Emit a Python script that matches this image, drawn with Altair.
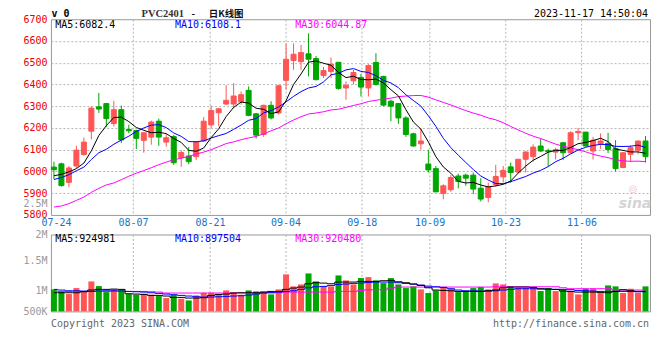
import altair as alt
import pandas as pd

MONO = "DejaVu Sans Mono"
RED = "#ff5555"
GREEN = "#00a600"
GRID = "#b4b4b4"

opens = [6020, 6035, 5950, 6025, 6078, 6185, 6297, 6312, 6220, 6284,
         6193, 6188, 6143, 6158, 6231, 6135, 6160, 6063, 6071, 6068,
         6140, 6214, 6270, 6310, 6310, 6320, 6373, 6265, 6170, 6304,
         6269, 6419, 6510, 6505, 6541, 6519, 6441, 6460, 6502, 6384,
         6417, 6432, 6384, 6501, 6437, 6323, 6312, 6246, 6173, 6127,
         6034, 6013, 5899, 5916, 5979, 5983, 5983, 5923, 5880, 5940,
         5975, 6021, 5997, 6056, 6068, 6117, 6096, 6089, 6132, 6086,
         6178, 6181, 6094, 6127, 6129, 6105, 6018, 6079, 6098, 6140]
highs = [6045, 6040, 6025, 6118, 6155, 6300, 6361, 6315, 6325, 6303,
         6215, 6192, 6180, 6234, 6243, 6172, 6168, 6097, 6112, 6140,
         6250, 6303, 6292, 6396, 6406, 6368, 6391, 6269, 6307, 6323,
         6399, 6589, 6589, 6582, 6635, 6531, 6480, 6524, 6502, 6414,
         6467, 6449, 6493, 6544, 6440, 6330, 6315, 6254, 6178, 6200,
         6100, 6025, 5941, 5983, 5990, 5990, 5995, 5969, 5949, 6030,
         6025, 6041, 6058, 6094, 6124, 6150, 6105, 6109, 6135, 6185,
         6200, 6181, 6159, 6175, 6178, 6144, 6089, 6120, 6140, 6163]
lows = [5965, 5930, 5928, 6015, 6072, 6147, 6269, 6205, 6207, 6130,
        6175, 6103, 6086, 6123, 6118, 6114, 6030, 6021, 6033, 6052,
        6135, 6200, 6208, 6305, 6290, 6307, 6254, 6151, 6159, 6239,
        6262, 6376, 6467, 6467, 6437, 6419, 6429, 6429, 6376, 6330,
        6400, 6345, 6345, 6395, 6300, 6231, 6219, 6159, 6114, 6100,
        5995, 5906, 5872, 5906, 5922, 5934, 5896, 5862, 5858, 5930,
        5949, 5949, 5995, 5995, 6045, 6089, 6022, 6055, 6053, 6083,
        6144, 6114, 6055, 6104, 6084, 6000, 6015, 6044, 6079, 6041]
closes = [6008, 5935, 6016, 6098, 6135, 6291, 6287, 6243, 6284, 6145,
          6187, 6152, 6178, 6227, 6158, 6155, 6040, 6087, 6045, 6136,
          6231, 6280, 6288, 6327, 6347, 6353, 6258, 6167, 6304, 6246,
          6394, 6516, 6539, 6547, 6516, 6422, 6464, 6493, 6382, 6396,
          6455, 6388, 6487, 6400, 6305, 6300, 6246, 6170, 6117, 6140,
          6007, 5906, 5934, 5972, 5954, 5969, 5919, 5873, 5930, 5977,
          6005, 5995, 6056, 6089, 6112, 6094, 6091, 6100, 6086, 6178,
          6184, 6117, 6144, 6140, 6101, 6013, 6086, 6109, 6140, 6068]

ma5 = [5980, 5987, 5998, 6013, 6038.4, 6095, 6165.4, 6210.8, 6248, 6250,
       6229.2, 6202.2, 6189.2, 6177.8, 6180.4, 6174, 6151.6, 6133.4, 6097, 6092.6,
       6107.8, 6155.8, 6196, 6252.4, 6294.6, 6319, 6314.6, 6290.4, 6285.8, 6265.6,
       6273.8, 6325.4, 6399.8, 6448.4, 6502.4, 6508, 6497.6, 6488.4, 6455.4, 6431.4,
       6438, 6422.8, 6421.6, 6425.2, 6407, 6376, 6347.6, 6284.2, 6227.6, 6194.6,
       6136, 6068, 6020.8, 5991.8, 5954.6, 5947, 5949.6, 5937.4, 5929, 5933.6,
       5940.8, 5956, 5992.6, 6024.4, 6051.4, 6069.2, 6088.4, 6097.2, 6096.6, 6109.8,
       6127.8, 6133, 6141.8, 6152.6, 6137.2, 6103, 6096.8, 6089.8, 6089.8, 6083.2]
ma10 = [5963, 5972, 5985, 6003, 6020, 6055, 6086, 6102, 6125, 6144.2,
        6162.1, 6183.8, 6200, 6212.9, 6215.2, 6201.6, 6176.9, 6161.3, 6137.4, 6136.5,
        6140.9, 6153.7, 6164.7, 6174.7, 6193.6, 6213.4, 6235.2, 6243.2, 6269.1, 6280.1,
        6296.4, 6320, 6345.1, 6367.1, 6384, 6390.9, 6411.5, 6444.1, 6451.9, 6466.9,
        6473, 6460.2, 6455, 6440.3, 6419.2, 6407, 6385.2, 6352.9, 6326.4, 6300.8,
        6256, 6207.8, 6152.5, 6109.7, 6074.6, 6041.5, 6008.8, 5979.1, 5960.4, 5944.1,
        5943.9, 5952.8, 5965, 5976.7, 5992.5, 6005, 6022.2, 6044.9, 6060.5, 6080.6,
        6098.5, 6110.7, 6119.5, 6124.6, 6123.5, 6115.4, 6114.9, 6115.8, 6121.2, 6110.2]
ma30 = [5836, 5841, 5852, 5867, 5882, 5904, 5922, 5938, 5947, 5962,
        5978, 5992, 6004, 6017, 6031, 6043, 6054, 6061, 6069, 6080,
        6089, 6100, 6114, 6128, 6136, 6146, 6154, 6161, 6173, 6186.9,
        6199.8, 6219.2, 6236.6, 6251.6, 6264.3, 6268.6, 6274.5, 6282.9, 6286.1, 6294.5,
        6303.4, 6311.3, 6321.6, 6327.4, 6332.3, 6337.1, 6344, 6346.7, 6349.1, 6349.3,
        6341.8, 6329.3, 6317.5, 6305.7, 6292.6, 6279.8, 6268.5, 6258.7, 6246.2, 6237.3,
        6224.3, 6206.9, 6190.8, 6175.6, 6162.1, 6151.2, 6138.7, 6125.6, 6115.8, 6108.5,
        6099.5, 6090.4, 6079, 6070.3, 6063.5, 6053.9, 6048.6, 6046.6, 6047.4, 6045]

volumes = [1017000, 983000, 939000, 1039000, 983000, 1150000, 1072000, 972000, 1017000, 1017000,
           939000, 928000, 944000, 928000, 906000, 872000, 928000, 861000, 833000, 917000,
           961000, 961000, 939000, 1000000, 972000, 928000, 1000000, 983000, 983000, 933000,
           1017000, 1267000, 1067000, 1100000, 1283000, 1150000, 1067000, 1067000, 1250000, 1167000,
           1100000, 1206000, 1222000, 1167000, 1122000, 1206000, 1100000, 1039000, 1067000, 1017000,
           956000, 1000000, 1056000, 1028000, 972000, 983000, 1039000, 1056000, 1017000, 1117000,
           1100000, 1067000, 1039000, 1039000, 1056000, 989000, 1039000, 989000, 1017000, 983000,
           933000, 1028000, 1028000, 956000, 1083000, 1067000, 956000, 1028000, 961000, 1067000]
vma5 = [961000, 961000, 961000, 961000, 978000, 1006000, 1017000, 1017000, 1022000, 1017000,
        944000, 939000, 933000, 917000, 917000, 906000, 883000, 883000, 872000, 872000,
        878000, 917000, 933000, 939000, 956000, 961000, 961000, 961000, 972000, 983000,
        983000, 1017000, 1039000, 1056000, 1111000, 1128000, 1122000, 1111000, 1139000, 1139000,
        1139000, 1150000, 1150000, 1150000, 1161000, 1167000, 1144000, 1128000, 1106000, 1083000,
        1044000, 1006000, 1000000, 994000, 983000, 983000, 983000, 983000, 994000, 1006000,
        1044000, 1056000, 1056000, 1056000, 1050000, 1028000, 1022000, 1017000, 989000, 983000,
        972000, 972000, 972000, 967000, 961000, 983000, 1011000, 994000, 983000, 983000]
vma10 = [1017000, 1006000, 994000, 994000, 989000, 983000, 989000, 994000, 994000, 989000,
         983000, 978000, 972000, 961000, 950000, 939000, 928000, 917000, 906000, 894000,
         889000, 889000, 894000, 900000, 906000, 911000, 922000, 939000, 956000, 967000,
         972000, 983000, 994000, 1017000, 1044000, 1061000, 1067000, 1083000, 1100000, 1106000,
         1117000, 1122000, 1133000, 1139000, 1139000, 1139000, 1128000, 1117000, 1106000, 1089000,
         1072000, 1061000, 1050000, 1028000, 1006000, 994000, 994000, 989000, 989000, 994000,
         1006000, 1017000, 1028000, 1028000, 1028000, 1022000, 1022000, 1017000, 1017000, 1011000,
         1000000, 994000, 989000, 983000, 983000, 983000, 983000, 983000, 978000, 978000]
vma30 = [983000, 983000, 983000, 983000, 983000, 983000, 983000, 983000, 983000, 983000,
         983000, 983000, 983000, 978000, 972000, 956000, 956000, 956000, 956000, 956000,
         956000, 956000, 956000, 956000, 956000, 956000, 956000, 956000, 956000, 956000,
         961000, 972000, 972000, 972000, 972000, 972000, 972000, 972000, 983000, 983000,
         983000, 1000000, 1011000, 1011000, 1011000, 1039000, 1056000, 1056000, 1056000, 1056000,
         1056000, 1056000, 1056000, 1056000, 1056000, 1056000, 1056000, 1056000, 1056000, 1061000,
         1061000, 1061000, 1061000, 1061000, 1061000, 1061000, 1061000, 1061000, 1044000, 1028000,
         1028000, 1028000, 1028000, 1028000, 1028000, 1006000, 1006000, 1006000, 1006000, 1006000]

date_ticks = [0.27, 10.57, 20.84, 30.93, 41.11, 50.17, 60.31, 70.44]
date_labels = ["07-24", "08-07", "08-21", "09-04", "09-18", "10-09", "10-23", "11-06"]
price_ticks = [5800, 5853, 5900, 6000, 6100, 6200, 6300, 6400, 6500, 6600, 6700]
vol_ticks = [650000, 1000000, 1500000, 1933000]
vol_labels = ["500K", "1M", "1.5M", "2M"]
vol_grid = [1572000, 1238000]


def label_expr(values, labels):
    expr = "''"
    for v, l in reversed(list(zip(values, labels))):
        expr = f"datum.value == {v} ? '{l}' : ({expr})"
    return expr


df = pd.DataFrame({
    "i": list(range(len(closes))),
    "open": opens, "high": highs, "low": lows, "close": closes,
    "ma5": ma5, "ma10": ma10, "ma30": ma30,
    "vol": volumes, "vma5": vma5, "vma10": vma10, "vma30": vma30,
})
df["dir"] = ["up" if c >= o else "down" for o, c in zip(opens, closes)]

xs = alt.Scale(domain=[-0.4, 79.6], nice=False, zero=False, padding=0)
ys = alt.Scale(domain=[5800, 6700], nice=False, zero=False, padding=0)
vs = alt.Scale(domain=[650000, 1933000], nice=False, zero=False, padding=0)

x_axis_main = alt.Axis(
    values=date_ticks, labelExpr=label_expr(date_ticks, date_labels),
    grid=True, gridColor=GRID, gridDash=[2, 2], gridWidth=1,
    gridOpacity={"condition": {"test": "datum.value < 1", "value": 0}, "value": 1},
    ticks=False, domain=False, labelColor="#1673c7", labelFont=MONO, labelFontSize=10,
    labelPadding=3, labelFlush=False, labelOverlap=False, title=None)
x_axis_vol = alt.Axis(
    values=date_ticks, labels=False,
    grid=True, gridColor=GRID, gridDash=[2, 2], gridWidth=1,
    gridOpacity={"condition": {"test": "datum.value < 1", "value": 0}, "value": 1},
    ticks=False, domain=False, title=None)
y_axis = alt.Axis(
    values=price_ticks,
    labelExpr="datum.value == 5853 ? '2.5M' : format(datum.value, 'd')",
    labelColor={"condition": {"test": "datum.value == 5853", "value": "#9a9a9a"}, "value": "#ee0000"},
    grid=True, gridColor=GRID, gridDash=[2, 2], gridWidth=1,
    gridOpacity={"condition": {"test": "datum.value == 5853 || datum.value <= 5800 || datum.value >= 6700",
                               "value": 0}, "value": 1},
    ticks=False, domain=False, labelFont=MONO, labelFontSize=10, labelPadding=4,
    labelOverlap=False, labelFlush=False, title=None, minExtent=0)
v_axis = alt.Axis(
    values=vol_ticks, labelExpr=label_expr(vol_ticks, vol_labels), labelColor="#9a9a9a",
    grid=False, ticks=False, domain=False, labelFont=MONO, labelFontSize=10, labelPadding=4,
    labelOverlap=False, labelFlush=False, title=None, minExtent=0)

X = alt.X("i:Q", scale=xs, axis=x_axis_main)
XV = alt.X("i:Q", scale=xs, axis=x_axis_vol)
col = alt.Color("dir:N", scale=alt.Scale(domain=["up", "down"], range=[RED, GREEN]), legend=None)
stk = alt.Stroke("dir:N", scale=alt.Scale(domain=["up", "down"], range=[RED, GREEN]), legend=None)

base = alt.Chart(df)
one = alt.Data(values=[{"k": 1}])


def label(text, x, y, color="black", align="left", size=10, font=MONO, weight="normal",
          baseline="middle", style="normal"):
    return alt.Chart(one).mark_text(
        text=text, align=align, baseline=baseline, font=font, fontSize=size,
        fontWeight=weight, fontStyle=style, color=color
    ).encode(x=alt.value(x), y=alt.value(y))


TOP = -10.4

wick = base.mark_rule(strokeWidth=1).encode(
    x=X, y=alt.Y("low:Q", scale=ys, axis=y_axis), y2="high:Q", color=col)
body = base.mark_bar(size=5, strokeWidth=1).encode(
    x=X, y=alt.Y("open:Q", scale=ys, axis=y_axis), y2="close:Q", color=col, stroke=stk)
l30 = base.mark_line(color="#ff00ff", strokeWidth=1).encode(x=X, y=alt.Y("ma30:Q", scale=ys, axis=y_axis))
l10 = base.mark_line(color="#0000ff", strokeWidth=1).encode(x=X, y=alt.Y("ma10:Q", scale=ys, axis=y_axis))
l5 = base.mark_line(color="#000000", strokeWidth=1).encode(x=X, y=alt.Y("ma5:Q", scale=ys, axis=y_axis))

main = alt.layer(
    label("◎", 583, 170.5, color="#efc6c6", align="center", size=10, font="DejaVu Sans"),
    label("sina", 585, 185, color="#d4d4d4", align="center", size=14, font="DejaVu Sans",
          weight="bold", style="italic"),
    wick, body, l30, l10, l5,
    label("MA5:6082.4", 4.3, 5.8),
    label("MA10:6108.1", 124.3, 5.8, color="#0000ff"),
    label("MA30:6044.87", 244.7, 5.8, color="#ff00ff"),
    label("v 0", 0.5, TOP, weight="bold", baseline="top"),
    label("PVC2401", 90.7, TOP, color="#333333", size=10.5, font="Liberation Serif",
          weight="bold", baseline="top"),
    label("-", 142.5, TOP, align="center", size=10.5, font="Liberation Serif",
          weight="bold", baseline="top"),
    label("日K线图", 158, TOP + 0.4, color="#111111", size=9.5, font="Noto Sans CJK SC",
          weight="bold", baseline="top"),
    label("2023-11-17 14:50:04", 598, TOP, align="right", baseline="top"),
).properties(width=600, height=196)

vgrid = alt.Chart(pd.DataFrame({"g": vol_grid})).mark_rule(
    color=GRID, strokeDash=[2, 2], strokeWidth=1).encode(
    x=XV, y=alt.Y("g:Q", scale=vs, axis=v_axis))
bars = base.mark_bar(size=6).encode(
    x=XV, y=alt.Y("vol:Q", scale=vs, axis=v_axis), y2=alt.datum(650000), color=col)
v30 = base.mark_line(color="#ff00ff", strokeWidth=1, interpolate="step").encode(
    x=XV, y=alt.Y("vma30:Q", scale=vs, axis=v_axis))
v10 = base.mark_line(color="#0000ff", strokeWidth=1, interpolate="step").encode(
    x=XV, y=alt.Y("vma10:Q", scale=vs, axis=v_axis))
v5 = base.mark_line(color="#000000", strokeWidth=1, interpolate="step").encode(
    x=XV, y=alt.Y("vma5:Q", scale=vs, axis=v_axis))

vol = alt.layer(
    vgrid, bars, v30, v10, v5,
    label("MA5:924981", 4.3, 4.7),
    label("MA10:897504", 124.3, 4.7, color="#0000ff"),
    label("MA30:920480", 244.7, 4.7, color="#ff00ff"),
    label("Copyright 2023 SINA.COM", 0, 89.5, color="#666666"),
    label("http://finance.sina.com.cn", 599, 89.5, color="#666666", align="right"),
).properties(width=600, height=77)

chart = alt.vconcat(main, vol, spacing=19.6, bounds="flush").properties(
    padding={"left": 14, "top": 0, "right": 0, "bottom": 0},
    background="white",
).configure_view(stroke="#999999", strokeWidth=1)

chart.save("out.html", embed_options={"renderer": "svg", "actions": False})
